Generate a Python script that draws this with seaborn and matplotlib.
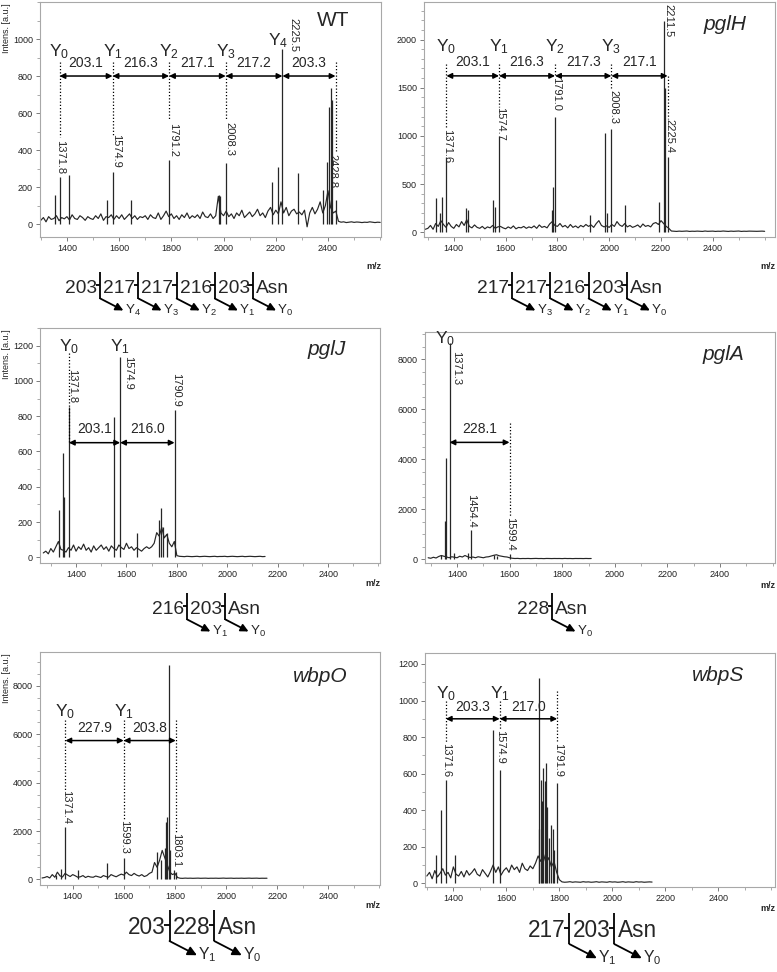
import matplotlib
matplotlib.use("Agg")
import matplotlib.pyplot as plt
import seaborn as sns
import numpy as np
from matplotlib import font_manager as fm
from matplotlib.ticker import FixedLocator

# ---------------- DATA ----------------
# noise baselines (intensity every 10 m/z from the given start)
wt_base_start = 1300
wt_base = [20, 35, 12, 40, 25, 30, 45, 18, 35, 28,
           40, 22, 50, 30, 25, 45, 35, 20, 40, 30,
           25, 45, 30, 55, 20, 40, 35, 50, 25, 45,
           30, 50, 25, 40, 55, 30, 45, 25, 40, 35,
           45, 25, 50, 35, 30, 60, 25, 45, 70, 40,
           55, 30, 45, 25, 50, 35, 60, 30, 45, 35,
           50, 30, 65, 40, 35, 55, 30, 45, 150, 60,
           45, 70, 40, 55, 30, 60, 45, 75, 35, 50,
           65, 40, 55, 80, 45, 60, 35, 70, 90, 50,
           75, 55, 120, 60, 90, 45, 70, 80, 55, 65,
           50, 75, -15, 60, 90, 55, 80, 120, 60, 100,
           180, 90, 60, 70,
           15, 10, 12, 8, 10, 12, 9, 11, 10, 8, 10, 9, 12, 10, 8, 10, 9]
wt_peaks_mz = [1354, 1371.8, 1407, 1555, 1574.9, 1646, 1791.2, 1981, 1986, 2008.3,
               2187, 2208, 2225.5, 2286, 2380, 2398, 2405, 2410, 2415, 2428.8]
wt_peaks_h = [157, 255, 265, 130, 283, 130, 346, 157, 150, 331,
              229, 310, 944, 277, 184, 337, 634, 733, 670, 130]

ph_base_start = 1290
ph_base = [30,
           40, 70, 30, 90, 60, 120, 80, 50, 100, 60,
           40, 80, 55, 110, 70, 130, 60, 45, 75, 50,
           40, 60, 35, 55, 45, 70, 40, 55, 60, 45,
           35, 55, 40, 65, 35, 50, 45, 60, 40, 55,
           45, 65, 40, 75, 50, 60, 45, 85, 110, 70,
           60, 90, 55, 70, 45, 80, 50, 65, 45, 70,
           55, 80, 60, 75, 50, 90, 120, 70, 55, 65,
           50, 80, 60, 110, 75, 60, 90, 55, 70, 50,
           60, 75, 50, 85, 60, 70, 55, 90, 100, 80,
           120, 90, 60, 40,
           12, 10, 8, 11, 9, 10, 12, 8, 10, 9, 11, 10, 8, 12, 9, 10, 11, 8, 10,
           9, 12, 10, 8, 11, 9, 10, 12, 8, 10, 9, 11, 10, 8, 9, 10, 11, 9]
ph_peaks_mz = [1332, 1347, 1355, 1371.6, 1447, 1455, 1553, 1560, 1574.7, 1779, 1784,
               1791.0, 1925, 1983, 1990, 2008.3, 2062, 2193, 2211.5, 2216, 2225.4]
ph_peaks_h = [353, 197, 370, 785, 250, 232, 335, 266, 1000, 232, 474,
              1200, 180, 1028, 197, 1070, 284, 318, 2197, 1495, 780]

pj_base_start = 1270
pj_base = [25, 35,
           20, 50, 30, 60, 90, 45, 40, 30, 55, 40,
           70, 35, 60, 45, 75, 40, 55, 30, 65, 40,
           55, 70, 45, 60, 35, 65, 50, 40, 70, 55,
           45, 80, 50, 60, 40, 55, 45, 35, 50, 60,
           50, 60, 80, 140, 120, 170, 110, 130, 80, 60,
           90, 10,
           6, 5, 4, 6, 5, 4, 5, 6, 4, 5, 6, 5, 4, 5, 6, 4, 5, 5,
           6, 4, 5, 6, 5, 4, 5, 6, 4, 5, 6, 5, 4, 5, 6, 4, 5]
pj_peaks_mz = [1333, 1350, 1353, 1371.8, 1550, 1574.9, 1643, 1730, 1738, 1745, 1760, 1790.9]
pj_peaks_h = [268, 590, 344, 850, 798, 1138, 136, 212, 278, 174, 136, 836]

pa_base_start = 1290
pa_base = [60,
           40, 80, 50, 110, 150, 120, 90, 60, 100, 80,
           60, 120, 90, 150, 100, 70, 90, 60, 100, 80,
           60, 90, 100, 130, 160, 180, 140, 120, 100, 90,
           60, 40,
           30, 35, 25, 30, 28, 32, 26, 30, 34, 28, 30, 25, 32, 30, 27,
           31, 29, 30, 26, 33, 28, 30, 25, 31, 29, 30, 27, 32, 28, 30]
pa_peaks_mz = [1338, 1353, 1357, 1371.3, 1390, 1440, 1454.4, 1540, 1550, 1599.4]
pa_peaks_h = [174, 1512, 4053, 8669, 240, 240, 1177, 174, 134, 200]

po_base_start = 1280
po_base = [60,
           80, 120, 60, 200, 90, 300, 150, 100, 250, 180,
           120, 200, 150, 90, 110, 160, 80, 130, 100, 90,
           140, 110, 80, 160, 120, 90, 200, 150, 110, 170,
           220, 180, 300, 200, 160, 250, 180, 140, 200, 120,
           160, 250, 300, 700, 500, 800, 1200, 900, 600, 300,
           200, 250, 80,
           50, 45, 55, 48, 52, 46, 50, 54, 47, 50, 53, 45, 50, 48, 52, 46, 50,
           55, 47, 50, 53, 45, 50, 48, 52, 46, 50, 54, 47, 50, 53, 45, 50, 48, 50]
po_peaks_mz = [1335, 1355, 1371.4, 1420, 1533, 1599.3, 1730, 1745, 1760, 1765,
               1770, 1775, 1780, 1795, 1803.1]
po_peaks_h = [179, 450, 2179, 386, 662, 869, 1145, 800, 1283, 2386,
              2593, 8869, 1214, 386, 300]

ps_base_start = 1300
ps_base = [40, 60, 25, 70, 35, 55, 80, 45, 60, 30,
           90, 50, 40, 65, 35, 70, 45, 60, 80, 50,
           40, 75, 55, 35, 65, 100, 60, 90, 45, 70,
           85, 60, 100, 75, 90, 60, 110, 80, 70, 95,
           80, 110, 150, 120, 160, 110, 140, 90, 120, 60,
           20,
           8, 6, 7, 9, 6, 8, 7, 6, 9, 7, 8, 6, 7, 9, 6, 8, 7,
           6, 9, 7, 8, 6, 7, 9, 6, 8, 7, 6, 9, 7, 8, 6, 7, 8, 7]
ps_peaks_mz = [1333, 1355, 1371.6, 1408, 1550, 1574.9, 1722, 1725, 1730, 1735, 1740,
               1745, 1748, 1755, 1760, 1768, 1775, 1780, 1791.9]
ps_peaks_h = [155, 402, 566, 155, 840, 621, 300, 1123, 566, 450, 630,
              560, 657, 420, 250, 320, 300, 183, 548]

# annotated Y-ion positions and mass differences
wt_marks = [1371.8, 1574.9, 1791.2, 2008.3, 2225.5, 2428.8]
wt_diffs = ["203.1", "216.3", "217.1", "217.2", "203.3"]
ph_marks = [1371.6, 1574.7, 1791.0, 2008.3, 2225.4]
ph_diffs = ["203.1", "216.3", "217.3", "217.1"]
pj_marks = [1371.8, 1574.9, 1790.9]
pj_diffs = ["203.1", "216.0"]
pa_marks = [1371.3, 1599.4]
pa_diffs = ["228.1"]
po_marks = [1371.4, 1599.3, 1803.1]
po_diffs = ["227.9", "203.8"]
ps_marks = [1371.6, 1574.9, 1791.9]
ps_diffs = ["203.3", "217.0"]

# peak labels
wt_plabels = ["1371.8", "1574.9", "1791.2", "2008.3", "2225.5", "2428.8"]
ph_plabels = ["1371.6", "1574.7", "1791.0", "2008.3", "2211.5", "2225.4"]
pj_plabels = ["1371.8", "1574.9", "1790.9"]
pa_plabels = ["1371.3", "1454.4", "1599.4"]
po_plabels = ["1371.4", "1599.3", "1803.1"]
ps_plabels = ["1371.6", "1574.9", "1791.9"]

# glycan structures
wt_struct = ["203", "217", "217", "216", "203", "Asn"]
ph_struct = ["217", "217", "216", "203", "Asn"]
pj_struct = ["216", "203", "Asn"]
pa_struct = ["228", "Asn"]
po_struct = ["203", "228", "Asn"]
ps_struct = ["217", "203", "Asn"]

titles = ["WT", "pglH", "pglJ", "pglA", "wbpO", "wbpS"]

# ---------------- STYLE ----------------
sns.set_theme(style="white")
plt.rcParams["font.family"] = ["Liberation Sans", "DejaVu Sans"]
plt.rcParams["mathtext.fontset"] = "custom"
plt.rcParams["mathtext.rm"] = "Liberation Sans"
plt.rcParams["mathtext.it"] = "Liberation Sans:italic"

names = {f.name for f in fm.fontManager.ttflist}
NARROW = "Liberation Sans Narrow" if "Liberation Sans Narrow" in names else None

W, H = 777, 972
fig = plt.figure(figsize=(W / 100, H / 100), dpi=100)
fig.patch.set_facecolor("white")

LINE = "#262626"


def rect(l, t, r, b):
    return [l / W, 1 - b / H, (r - l) / W, (b - t) / H]


panels = [
    dict(title="WT", italic=False, box=(40, 2, 381, 237), xlim=(1297, 2603), ylim=(-70, 1200),
         ymaj=200, ymin=100, ymax_tick=1000,
         base=wt_base, bstart=wt_base_start, pmz=wt_peaks_mz, ph=wt_peaks_h,
         marks=wt_marks, diffs=wt_diffs, arrow_y=800, diff_y=870,
         ylabs=[(0, 905, 0), (1, 905, 0), (2, 905, 0), (3, 905, 0), (4, 965, -3)],
         dots=[(0, 875, 470), (1, 875, 480), (2, 875, 560), (3, 875, 560), (5, 875, 385)],
         plab=[(0, 1371.8, 455, 0.5), (1, 1574.9, 485, 2.5), (2, 1791.2, 545, 3),
               (3, 2008.3, 550, 2.5), (4, 2225.5, 1115, 8), (5, 2428.8, 380, -2)],
         plab_text=wt_plabels,
         title_px=(333, 20), mz_px=(381, 266), ylabel=True,
         struct=wt_struct, s_px=(65, 285), s_fs=16),
    dict(title="pglH", italic=True, box=(424, 2, 775, 237), xlim=(1285, 2640), ylim=(-50, 2390),
         ymaj=500, ymin=100, ymax_tick=2000,
         base=ph_base, bstart=ph_base_start, pmz=ph_peaks_mz, ph=ph_peaks_h,
         marks=ph_marks, diffs=ph_diffs, arrow_y=1623, diff_y=1765,
         ylabs=[(0, 1880, 0), (1, 1880, 0), (2, 1880, 0), (3, 1880, 0)],
         dots=[(0, 1750, 1080), (1, 1750, 1300), (2, 1750, 1610), (3, 1750, 1480), (4, 1620, 1170)],
         plab=[(0, 1371.6, 1070, 0.5), (1, 1574.7, 1300, 0.5), (2, 1791.0, 1610, 0.5),
               (3, 2008.3, 1480, 1.5), (4, 2211.5, 2370, 3), (5, 2225.4, 1170, 1.5)],
         plab_text=ph_plabels,
         title_px=(725, 24), mz_px=(775, 266), ylabel=False,
         struct=ph_struct, s_px=(477, 285), s_fs=16),
    dict(title="pglJ", italic=True, box=(40, 328, 380, 563), xlim=(1257, 2606), ylim=(-32, 1300),
         ymaj=200, ymin=100, ymax_tick=1200,
         base=pj_base, bstart=pj_base_start, pmz=pj_peaks_mz, ph=pj_peaks_h,
         marks=pj_marks, diffs=pj_diffs, arrow_y=650, diff_y=725,
         ylabs=[(0, 1170, 0), (1, 1170, 0)],
         dots=[(0, 1160, 650)],
         plab=[(0, 1371.8, 1065, 2), (1, 1574.9, 1140, 6), (2, 1790.9, 1045, 1)],
         plab_text=pj_plabels,
         title_px=(327, 349), mz_px=(380, 583), ylabel=True,
         struct=pj_struct, s_px=(152, 606), s_fs=16),
    dict(title="pglA", italic=True, box=(425, 332, 775, 563), xlim=(1278, 2609), ylim=(-150, 9100),
         ymaj=2000, ymin=500, ymax_tick=8000,
         base=pa_base, bstart=pa_base_start, pmz=pa_peaks_mz, ph=pa_peaks_h,
         marks=pa_marks, diffs=pa_diffs, arrow_y=4680, diff_y=5200,
         ylabs=[(0, 8650, -3)],
         dots=[(1, 5460, 1710)],
         plab=[(0, 1371.3, 8350, 5), (1, 1454.4, 2600, 0), (2, 1599.4, 1710, 0.5)],
         plab_text=pa_plabels,
         title_px=(723, 354), mz_px=(775, 585), ylabel=False,
         struct=pa_struct, s_px=(517, 606), s_fs=16),
    dict(title="wbpO", italic=True, box=(40, 652, 380, 885), xlim=(1272, 2602), ylim=(-230, 9400),
         ymaj=2000, ymin=500, ymax_tick=8000,
         base=po_base, bstart=po_base_start, pmz=po_peaks_mz, ph=po_peaks_h,
         marks=po_marks, diffs=po_diffs, arrow_y=5740, diff_y=6260,
         ylabs=[(0, 6730, 0), (1, 6730, 0)],
         dots=[(0, 6600, 3700), (1, 6600, 2460), (2, 6600, 1900)],
         plab=[(0, 1371.4, 3700, 0.5), (1, 1599.3, 2460, 0.5), (2, 1803.1, 1900, 0.5)],
         plab_text=po_plabels,
         title_px=(320, 676), mz_px=(380, 905), ylabel=True,
         struct=po_struct, s_px=(128, 925), s_fs=19),
    dict(title="wbpS", italic=True, box=(425, 653, 775, 887), xlim=(1293, 2614), ylim=(-20, 1260),
         ymaj=200, ymin=100, ymax_tick=1200,
         base=ps_base, bstart=ps_base_start, pmz=ps_peaks_mz, ph=ps_peaks_h,
         marks=ps_marks, diffs=ps_diffs, arrow_y=900, diff_y=965,
         ylabs=[(0, 1010, 0), (1, 1010, 0)],
         dots=[(0, 1000, 770), (1, 1000, 840), (2, 1050, 770)],
         plab=[(0, 1371.6, 770, 0.5), (1, 1574.9, 840, 0.5), (2, 1791.9, 770, 0.5)],
         plab_text=ps_plabels,
         title_px=(718, 675), mz_px=(775, 908), ylabel=False,
         struct=ps_struct, s_px=(528, 928), s_fs=19),
]

# overlay axes in pixel coordinates (for structures and labels)
ov = fig.add_axes([0, 0, 1, 1], zorder=5)
ov.set_xlim(0, W)
ov.set_ylim(H, 0)
ov.axis("off")
ov.patch.set_visible(False)

for p in panels:
    ax = fig.add_axes(rect(*p["box"]))
    bx = [p["bstart"] + 10 * i for i in range(len(p["base"]))]
    sns.lineplot(x=bx, y=p["base"], ax=ax, color=LINE, lw=0.85, estimator=None, sort=False)
    ax.vlines(p["pmz"], 0, p["ph"], color=LINE, lw=0.9)
    ax.set_xlim(*p["xlim"])
    ax.set_ylim(*p["ylim"])
    ax.set_xticks(list(range(1400, 2401, 200)))
    ax.xaxis.set_minor_locator(FixedLocator([v for v in range(1300, 2601, 100)]))
    ax.set_yticks(list(range(0, p["ymax_tick"] + 1, p["ymaj"])))
    ymt = [v for v in range(0, int(p["ylim"][1]) + 1, p["ymin"])]
    ax.yaxis.set_minor_locator(FixedLocator(ymt))
    ax.tick_params(which="major", direction="out", length=3, width=0.6, color="#666",
                   labelsize=6.5, labelcolor="#222", pad=2, bottom=True, left=True)
    ax.tick_params(which="minor", direction="out", length=2, width=0.5, color="#888",
                   bottom=True, left=True)
    for s in ax.spines.values():
        s.set_color("#a8a8a8")
        s.set_linewidth(0.8)
    ax.set_xlabel("")
    ax.set_ylabel("")

    m = p["marks"]
    for i, d in enumerate(p["diffs"]):
        ax.annotate("", xy=(m[i + 1], p["arrow_y"]), xytext=(m[i], p["arrow_y"]),
                    arrowprops=dict(arrowstyle="<|-|>", color="black", lw=1.1,
                                    mutation_scale=8, shrinkA=0, shrinkB=0))
        ax.text((m[i] + m[i + 1]) / 2, p["diff_y"], d, ha="center", va="center", fontsize=10)
    for i, yb, dxp in p["ylabs"]:
        ax.annotate(r"Y$_{%d}$" % i, xy=(m[i], yb), xytext=(dxp, 0), textcoords="offset points",
                    ha="center", va="baseline", fontsize=12.5)
    for i, y0, y1 in p["dots"]:
        ax.plot([m[i], m[i]], [y0, y1], color="black", lw=0.9, ls=(0, (1, 1.6)))
    for (j, x, y, dx) in p["plab"]:
        ax.annotate(p["plab_text"][j], xy=(x, y), xytext=(dx, 0), textcoords="offset points",
                    rotation=270, ha="center", va="top", fontsize=8)

    # overlay texts
    tx, ty = p["title_px"]
    ov.text(tx, ty, p["title"], fontsize=15, ha="center", va="center",
            style="italic" if p["italic"] else "normal")
    mx, my = p["mz_px"]
    ov.text(mx, my, "m/z", fontsize=6.5, fontweight="bold", ha="right", va="center")
    if p["ylabel"]:
        ov.text(7, p["box"][1] + 1, "Intens. [a.u.]", fontsize=6.5, rotation=90,
                ha="center", va="top")

# ---------------- STRUCTURES ----------------
fig.canvas.draw()
renderer = fig.canvas.get_renderer()


def draw_structure(x0, yc, pieces, fs):
    fam = NARROW if NARROW else "Liberation Sans"
    fs_eff = fs if NARROW else fs * 0.86
    hc = fs * 100 / 72 * 0.716
    x = x0
    nb = len(pieces) - 1
    for i, piece in enumerate(pieces):
        t = ov.text(x, yc + hc / 2, piece, fontsize=fs_eff, family=fam, ha="left", va="baseline")
        w = t.get_window_extent(renderer).width
        x += w
        if i < nb:
            bxp = x + 0.2 * hc
            ov.plot([bxp - 0.3 * hc, bxp], [yc, yc], color="black", lw=1.3, solid_capstyle="butt")
            ov.plot([bxp, bxp], [yc - 0.8 * hc, yc + 0.85 * hc], color="black", lw=1.3,
                    solid_capstyle="butt")
            tip = (bxp + 1.45 * hc, yc + 1.6 * hc)
            ov.annotate("", xy=tip, xytext=(bxp, yc + 0.85 * hc),
                        arrowprops=dict(arrowstyle="-|>", color="black", lw=1.3,
                                        mutation_scale=fs * 0.7, shrinkA=0, shrinkB=0))
            ov.text(tip[0] + 0.08 * hc, tip[1] + 0.2 * hc, r"Y$_{%d}$" % (nb - 1 - i),
                    fontsize=fs * 0.6, ha="left", va="baseline")
            x = bxp + 0.18 * hc


for p in panels:
    draw_structure(p["s_px"][0], p["s_px"][1], p["struct"], p["s_fs"])

fig.savefig("out.png", dpi=100, facecolor="white")
